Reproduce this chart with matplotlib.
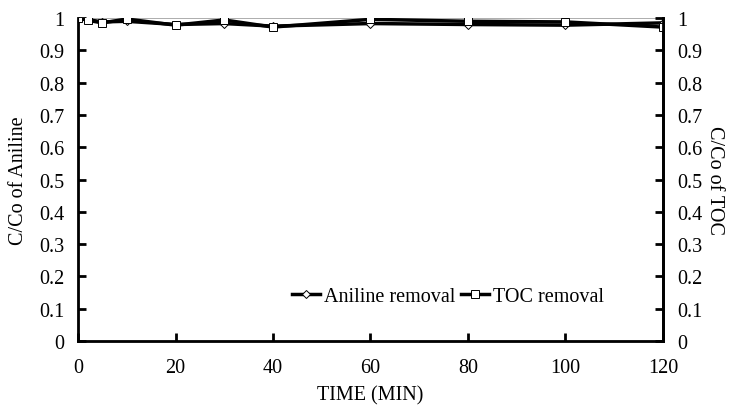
import numpy as np
import matplotlib.pyplot as plt

plt.rcParams['font.family'] = ['Liberation Serif', 'DejaVu Serif']

## data
time = [0, 2, 5, 10, 20, 30, 40, 60, 80, 100, 120]
aniline = [1.0, 0.995, 0.988, 0.99, 0.98, 0.983, 0.975, 0.983, 0.98, 0.978, 0.985]
toc = [1.0, 0.993, 0.985, 0.997, 0.978, 0.994, 0.972, 0.996, 0.99, 0.988, 0.972]

yticks = np.round(np.arange(0, 1.01, 0.1), 1)
ytick_labels = ['0'] + ['%.1f' % v for v in yticks[1:-1]] + ['1']

fs = 14.5

fig = plt.figure(figsize=(7.32, 4.14), dpi=100)
ax = fig.add_axes([0.1066, 0.174, 0.799, 0.78])

ax.axhline(1.0, color='#a0a0a0', lw=1.2, zorder=1)
ax.plot(time, aniline, color='black', lw=2.5, marker='D', ms=4.5,
        mfc='white', mec='black', mew=0.7, label='Aniline removal', zorder=3)
ax.plot(time, toc, color='black', lw=2.5, marker='s', ms=6,
        mfc='white', mec='black', mew=0.7, label='TOC removal', zorder=3)

ax.set_xlim(0, 120)
ax.set_ylim(0, 1)
ax.set_xticks([0, 20, 40, 60, 80, 100, 120])
ax.set_yticks(yticks)
ax.set_yticklabels(ytick_labels)
ax.tick_params(direction='in', length=6, width=2, labelsize=fs, pad=10)
ax.tick_params(axis='x', pad=12)
for s in ['left', 'bottom', 'right']:
    ax.spines[s].set_linewidth(2)
ax.spines['top'].set_visible(False)

ax.set_xlabel('TIME (MIN)', fontsize=fs, labelpad=6)
ax.set_ylabel('C/Co of Aniline', fontsize=fs, labelpad=8)

ax2 = ax.twinx()
ax2.set_ylim(0, 1)
ax2.set_yticks(yticks)
ax2.set_yticklabels(ytick_labels)
ax2.tick_params(direction='in', length=6, width=2, labelsize=fs, pad=10)
ax2.spines['top'].set_visible(False)
ax2.spines['right'].set_linewidth(2)
ax2.set_ylabel('C/Co of TOC', fontsize=fs, rotation=-90, labelpad=16)

ax.legend(loc='center right', bbox_to_anchor=(0.9, 0.139), ncol=2, frameon=False,
          fontsize=fs, handlelength=1.4, handletextpad=0.2, columnspacing=0.3,
          borderpad=0, borderaxespad=0)

plt.savefig('out.png', dpi=100)
